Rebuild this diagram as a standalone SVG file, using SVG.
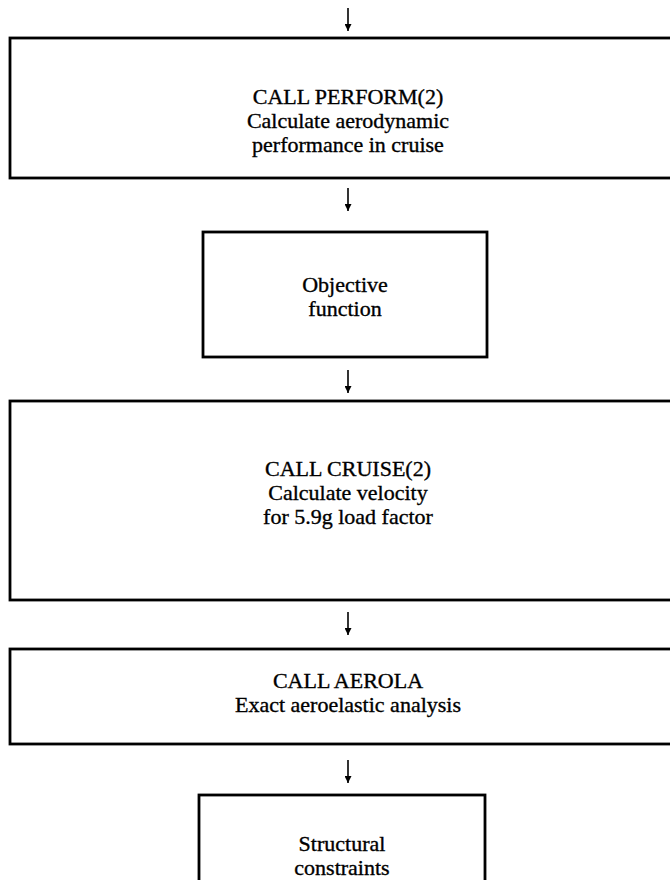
<svg xmlns="http://www.w3.org/2000/svg" width="670" height="880" viewBox="0 0 670 880">
<style>
.box{fill:#fff;stroke:#000;stroke-width:2.8}
.t{font-family:"Liberation Serif","Times New Roman",serif;font-size:22px;text-anchor:middle;fill:#000;stroke:#000;stroke-width:0.35}
.c{stroke:#000;stroke-width:1.6;fill:none}
</style>
<defs>
<marker id="ah" viewBox="0 0 10 10" refX="10" refY="5" markerWidth="7" markerHeight="7" orient="auto" markerUnits="userSpaceOnUse">
<path d="M0,0 L10,5 L0,10 z" fill="#000"/>
</marker>
</defs>
<rect width="670" height="880" fill="#fff"/>
<g id="connectors">
<line class="c" x1="348" y1="8" x2="348" y2="31" marker-end="url(#ah)"/>
<line class="c" x1="348" y1="188" x2="348" y2="211" marker-end="url(#ah)"/>
<line class="c" x1="348" y1="370" x2="348" y2="393" marker-end="url(#ah)"/>
<line class="c" x1="348" y1="612" x2="348" y2="635" marker-end="url(#ah)"/>
<line class="c" x1="348" y1="760" x2="348" y2="783" marker-end="url(#ah)"/>
</g>
<g id="perform">
<rect class="box" x="10" y="38" width="670" height="140"/>
<text class="t" x="348" y="104">CALL PERFORM(2)</text>
<text class="t" x="348" y="128">Calculate aerodynamic</text>
<text class="t" x="348" y="152">performance in cruise</text>
</g>
<g id="objective">
<rect class="box" x="203" y="232" width="284" height="125"/>
<text class="t" x="345" y="292">Objective</text>
<text class="t" x="345" y="316">function</text>
</g>
<g id="cruise">
<rect class="box" x="10" y="401" width="670" height="199"/>
<text class="t" x="348" y="476">CALL CRUISE(2)</text>
<text class="t" x="348" y="500">Calculate velocity</text>
<text class="t" x="348" y="524">for 5.9g load factor</text>
</g>
<g id="aerola">
<rect class="box" x="10" y="649" width="670" height="95"/>
<text class="t" x="348" y="688">CALL AEROLA</text>
<text class="t" x="348" y="712">Exact aeroelastic analysis</text>
</g>
<g id="structural">
<rect class="box" x="199" y="795" width="286" height="120"/>
<text class="t" x="342" y="851">Structural</text>
<text class="t" x="342" y="875">constraints</text>
</g>
</svg>
